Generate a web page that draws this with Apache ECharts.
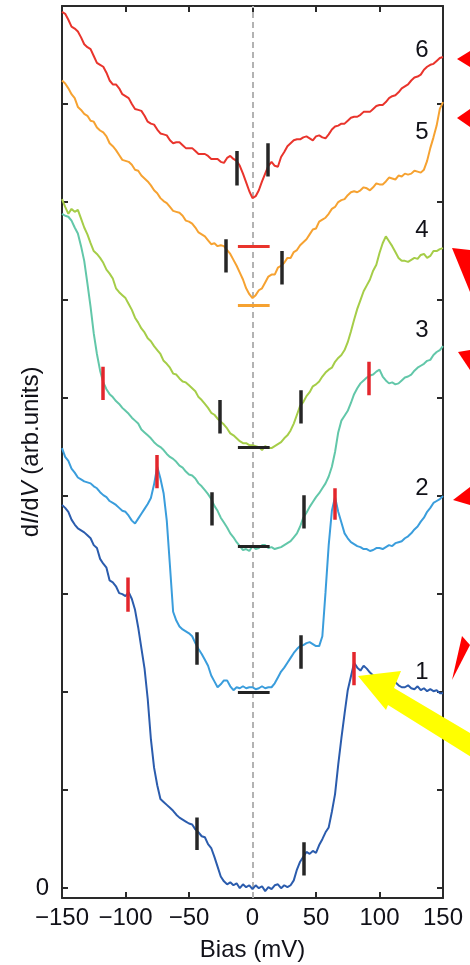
<!DOCTYPE html>
<html>
<head>
<meta charset="utf-8">
<script src="https://cdn.jsdelivr.net/npm/echarts@6/dist/echarts.min.js"></script>
<style>
  html, body { margin: 0; padding: 0; background: #ffffff; }
  #chart { width: 470px; height: 965px; }
</style>
</head>
<body>
<div id="chart"></div>
<script>
// Bias voltage grid (mV), 2.5 mV steps
const bias = [
  -150,-147.5,-145,-142.5,-140,-137.5,-135,-132.5,-130,-127.5,
  -125,-122.5,-120,-117.5,-115,-112.5,-110,-107.5,-105,-102.5,
  -100,-97.5,-95,-92.5,-90,-87.5,-85,-82.5,-80,-77.5,
  -75,-72.5,-70,-67.5,-65,-62.5,-60,-57.5,-55,-52.5,
  -50,-47.5,-45,-42.5,-40,-37.5,-35,-32.5,-30,-27.5,
  -25,-22.5,-20,-17.5,-15,-12.5,-10,-7.5,-5,-2.5,
  0,2.5,5,7.5,10,12.5,15,17.5,20,22.5,
  25,27.5,30,32.5,35,37.5,40,42.5,45,47.5,
  50,52.5,55,57.5,60,62.5,65,67.5,70,72.5,
  75,77.5,80,82.5,85,87.5,90,92.5,95,97.5,
  100,102.5,105,107.5,110,112.5,115,117.5,120,122.5,
  125,127.5,130,132.5,135,137.5,140,142.5,145,147.5,
  150
];

// dI/dV spectra, vertically offset (arb. units)
const curve1 = [
  3.91,3.88,3.84,3.76,3.71,3.67,3.65,3.63,3.60,3.57,
  3.50,3.47,3.36,3.31,3.27,3.14,3.12,3.08,3.01,3.00,
  2.98,3.02,2.95,2.84,2.66,2.45,2.24,1.93,1.52,1.23,
  1.05,0.91,0.88,0.85,0.82,0.79,0.75,0.72,0.70,0.68,
  0.66,0.65,0.60,0.57,0.53,0.52,0.45,0.41,0.32,0.22,
  0.12,0.07,0.04,0.06,0.03,0.05,0.00,0.04,0.01,0.03,
  -0.01,0.03,0.00,0.02,-0.03,0.01,-0.01,0.03,0.04,0.00,
  0.03,0.01,0.03,0.08,0.19,0.27,0.32,0.37,0.35,0.38,
  0.36,0.44,0.50,0.57,0.62,0.78,0.96,1.26,1.53,1.78,
  2.02,2.16,2.30,2.25,2.22,2.27,2.24,2.20,2.17,2.16,
  2.13,2.15,2.12,2.10,2.08,2.10,2.07,2.05,2.05,2.07,
  2.04,2.03,2.06,2.02,2.04,2.01,2.03,2.01,2.02,1.99,
  1.99
];
const curve2 = [
  4.49,4.40,4.36,4.28,4.24,4.19,4.17,4.15,4.14,4.13,
  4.10,4.08,4.04,4.01,3.99,3.95,3.93,3.91,3.88,3.85,
  3.84,3.80,3.75,3.72,3.77,3.82,3.87,3.92,3.98,4.12,
  4.30,4.18,4.03,3.75,3.29,2.82,2.73,2.67,2.64,2.62,
  2.60,2.57,2.50,2.44,2.39,2.33,2.27,2.17,2.11,2.05,
  2.08,2.12,2.12,2.06,2.02,2.05,2.04,2.06,2.04,2.05,
  2.05,2.03,2.04,2.06,2.04,2.05,2.05,2.09,2.15,2.21,
  2.25,2.30,2.35,2.40,2.44,2.47,2.48,2.50,2.51,2.49,
  2.47,2.47,2.57,3.02,3.50,3.85,3.99,3.84,3.73,3.62,
  3.57,3.53,3.51,3.49,3.48,3.46,3.46,3.44,3.45,3.47,
  3.47,3.46,3.48,3.50,3.49,3.52,3.53,3.54,3.57,3.59,
  3.62,3.66,3.69,3.74,3.78,3.84,3.88,3.93,3.95,3.97,
  4.00
];
const curve3 = [
  6.88,6.86,6.85,6.81,6.74,6.68,6.55,6.40,6.17,5.93,
  5.66,5.45,5.28,5.16,5.09,5.04,5.01,4.97,4.94,4.90,
  4.87,4.84,4.80,4.77,4.74,4.68,4.65,4.62,4.59,4.55,
  4.52,4.50,4.47,4.43,4.40,4.38,4.35,4.31,4.29,4.25,
  4.22,4.21,4.18,4.13,4.10,4.06,4.02,3.97,3.90,3.85,
  3.78,3.73,3.68,3.62,3.58,3.53,3.49,3.45,3.46,3.44,
  3.49,3.46,3.47,3.50,3.50,3.47,3.48,3.46,3.47,3.48,
  3.50,3.52,3.54,3.58,3.62,3.69,3.78,3.83,3.89,3.94,
  3.99,4.03,4.08,4.13,4.20,4.30,4.45,4.65,4.77,4.82,
  4.87,4.95,5.04,5.10,5.15,5.18,5.21,5.23,5.24,5.27,
  5.29,5.22,5.18,5.15,5.16,5.14,5.15,5.18,5.21,5.22,
  5.24,5.28,5.31,5.33,5.35,5.38,5.39,5.44,5.47,5.49,
  5.53
];
const curve4 = [
  7.03,6.95,6.88,6.93,6.90,6.92,6.83,6.74,6.67,6.58,
  6.50,6.47,6.43,6.38,6.31,6.27,6.22,6.12,6.08,6.05,
  6.02,5.96,5.90,5.82,5.77,5.71,5.67,5.61,5.58,5.53,
  5.49,5.45,5.38,5.35,5.31,5.25,5.24,5.20,5.17,5.16,
  5.13,5.10,5.07,5.01,4.98,4.94,4.90,4.85,4.83,4.79,
  4.76,4.73,4.69,4.64,4.62,4.59,4.56,4.54,4.54,4.52,
  4.52,4.51,4.50,4.47,4.51,4.49,4.49,4.51,4.53,4.55,
  4.59,4.62,4.67,4.74,4.83,4.92,4.96,5.02,5.06,5.12,
  5.14,5.17,5.22,5.26,5.29,5.31,5.37,5.41,5.44,5.49,
  5.57,5.68,5.80,5.91,6.00,6.09,6.15,6.21,6.30,6.36,
  6.48,6.58,6.65,6.60,6.55,6.49,6.43,6.40,6.40,6.39,
  6.41,6.43,6.42,6.46,6.47,6.43,6.45,6.50,6.50,6.52,
  6.53
];
const curve5 = [
  8.24,8.21,8.16,8.10,8.06,7.97,7.94,7.90,7.88,7.83,
  7.82,7.76,7.73,7.71,7.67,7.60,7.57,7.53,7.48,7.43,
  7.42,7.41,7.38,7.33,7.32,7.27,7.24,7.21,7.17,7.12,
  7.09,7.04,7.01,6.99,6.95,6.91,6.90,6.89,6.86,6.81,
  6.80,6.78,6.74,6.69,6.67,6.65,6.61,6.57,6.58,6.55,
  6.56,6.55,6.51,6.47,6.41,6.35,6.28,6.21,6.12,6.06,
  6.02,6.05,6.10,6.12,6.18,6.24,6.26,6.26,6.33,6.35,
  6.38,6.43,6.43,6.49,6.51,6.56,6.59,6.62,6.67,6.72,
  6.73,6.80,6.82,6.84,6.88,6.93,6.95,7.00,7.02,7.03,
  7.07,7.10,7.11,7.10,7.12,7.15,7.14,7.12,7.15,7.19,
  7.18,7.18,7.21,7.25,7.24,7.23,7.27,7.26,7.29,7.28,
  7.29,7.32,7.31,7.30,7.33,7.42,7.55,7.66,7.78,7.95,
  8.02
];
const curve6 = [
  8.94,8.92,8.86,8.79,8.77,8.74,8.68,8.61,8.58,8.56,
  8.49,8.42,8.40,8.38,8.32,8.24,8.20,8.20,8.16,8.10,
  8.08,8.06,8.00,7.95,7.94,7.93,7.88,7.82,7.80,7.79,
  7.74,7.70,7.69,7.68,7.63,7.60,7.61,7.61,7.58,7.55,
  7.55,7.55,7.52,7.49,7.49,7.49,7.47,7.44,7.44,7.44,
  7.41,7.40,7.45,7.47,7.44,7.42,7.37,7.29,7.20,7.11,
  7.04,7.06,7.12,7.21,7.29,7.37,7.41,7.37,7.36,7.46,
  7.51,7.57,7.60,7.63,7.64,7.64,7.66,7.67,7.65,7.63,
  7.67,7.68,7.66,7.65,7.69,7.74,7.77,7.78,7.80,7.80,
  7.83,7.86,7.87,7.87,7.89,7.92,7.92,7.92,7.95,7.98,
  7.99,7.99,8.02,8.06,8.08,8.09,8.12,8.16,8.18,8.20,
  8.24,8.27,8.28,8.30,8.35,8.38,8.40,8.41,8.44,8.47,
  8.48
];

const curveNames = ['1', '2', '3', '4', '5', '6'];
// Where each spectrum's number is printed: [bias, dI/dV]
const curveLabelPos = [[133.5, 2.20], [133.5, 4.08], [133.5, 5.69], [133.5, 6.71], [133.5, 7.71], [133.5, 8.55]];

// Gap-edge markers: [bias, lower dI/dV, upper dI/dV]
const gapEdges = [
  [-12.2, 7.17, 7.52], [12.2, 7.26, 7.60],
  [-20.9, 6.28, 6.62], [23.2, 6.16, 6.50],
  [-25.6, 4.64, 4.98], [38.2, 4.74, 5.08],
  [-31.9, 3.70, 4.04], [40.6, 3.67, 4.01],
  [-43.7, 2.28, 2.61], [38.2, 2.24, 2.58],
  [-43.7, 0.39, 0.72], [40.6, 0.13, 0.47]
];
// Coherence-peak markers: [bias, lower dI/dV, upper dI/dV]
const peakMarks = [
  [-117.7, 4.98, 5.32], [91.7, 5.03, 5.37],
  [-75.2, 4.08, 4.42], [65.0, 3.76, 4.08],
  [-98.0, 2.82, 3.17], [79.9, 2.07, 2.41]
];
// Zero-bias baselines: [left bias, right bias, dI/dV]
const baselines = [
  [-11.5, 13.5, 6.55], [-11.5, 13.5, 5.95],
  [-11.5, 13.5, 4.50], [-11.5, 13.5, 3.49], [-11.5, 13.5, 2.00]
];

const yTicks = [0, 1, 2, 3, 4, 5, 6, 7, 8, 9];

const curveColors = ['#2b5cad', '#3a9ddc', '#62c7a9', '#a5cd48', '#f6a231', '#e9342c'];
const baselineColors = ['#e9342c', '#f6a231', '#222222', '#222222', '#222222'];
const axisColor = '#2a2a2a';
const textColor = '#111118';
const font = '"Liberation Sans", Arial, sans-serif';

const chart = echarts.init(document.getElementById('chart'), null, { renderer: 'canvas' });

const curves = [curve1, curve2, curve3, curve4, curve5, curve6];
const series = curves.map((vals, i) => ({
  name: curveNames[i],
  type: 'line',
  data: bias.map((b, j) => [b, vals[j]]),
  showSymbol: false,
  symbol: 'none',
  lineStyle: { color: curveColors[i], width: 2 },
  z: 3,
  silent: true
}));

// dashed zero-bias guide
series.push({
  type: 'lines',
  coordinateSystem: 'cartesian2d',
  data: [{ coords: [[0, -0.1], [0, 9]] }],
  lineStyle: { color: '#b3b3b3', width: 2, type: [6, 4], opacity: 1 },
  z: 2,
  silent: true
});
series.push({
  type: 'lines',
  coordinateSystem: 'cartesian2d',
  data: gapEdges.map(m => ({ coords: [[m[0], m[1]], [m[0], m[2]]] })),
  lineStyle: { color: '#262626', width: 3.5, opacity: 1 },
  z: 5,
  silent: true
});
series.push({
  type: 'lines',
  coordinateSystem: 'cartesian2d',
  data: peakMarks.map(m => ({ coords: [[m[0], m[1]], [m[0], m[2]]] })),
  lineStyle: { color: '#e3262c', width: 3.5, opacity: 1 },
  z: 5,
  silent: true
});
series.push({
  type: 'lines',
  coordinateSystem: 'cartesian2d',
  data: baselines.map((m, i) => ({
    coords: [[m[0], m[2]], [m[1], m[2]]],
    lineStyle: { color: baselineColors[i] }
  })),
  lineStyle: { width: 3, opacity: 1 },
  z: 5,
  silent: true
});
// spectrum numbers
series.push({
  type: 'scatter',
  data: curveLabelPos.map((p, i) => ({ value: p, name: curveNames[i] })),
  symbolSize: 0,
  itemStyle: { opacity: 1 },
  label: {
    show: true,
    position: 'inside',
    formatter: p => p.name,
    color: textColor,
    opacity: 1,
    fontSize: 24,
    fontFamily: font
  },
  z: 6,
  silent: true
});

const minus = v => (v < 0 ? '\u2212' + Math.abs(v) : String(v));

chart.setOption({
  animation: false,
  backgroundColor: '#ffffff',
  grid: { left: 62, right: 27, top: 6, bottom: 67, containLabel: false, outerBoundsMode: 'none' },
  xAxis: [
    {
      type: 'value', min: -150, max: 150, interval: 50, position: 'bottom',
      name: 'Bias (mV)', nameLocation: 'middle', nameGap: 40, nameMoveOverlap: false,
      nameTextStyle: { fontSize: 24, color: textColor, fontFamily: font },
      axisLine: { show: true, onZero: false, lineStyle: { color: axisColor, width: 2 } },
      axisTick: { show: true, inside: true, length: 6, lineStyle: { color: axisColor, width: 2 } },
      axisLabel: { show: true, margin: 8, fontSize: 24, color: textColor, fontFamily: font, formatter: minus },
      splitLine: { show: false }
    },
    {
      type: 'value', min: -150, max: 150, interval: 50, position: 'top',
      axisLine: { show: true, onZero: false, lineStyle: { color: axisColor, width: 2 } },
      axisTick: { show: true, inside: true, length: 6, lineStyle: { color: axisColor, width: 2 } },
      axisLabel: { show: false },
      splitLine: { show: false }
    }
  ],
  yAxis: [
    {
      type: 'value', min: -0.1, max: 9, position: 'left',
      name: '{n|d}{i|I}{n|/d}{i|V}{n| (arb.units)}',
      nameLocation: 'middle', nameGap: 19, nameRotate: 90, nameMoveOverlap: false,
      nameTextStyle: {
        fontSize: 24, color: textColor, fontFamily: font,
        rich: {
          n: { fontSize: 24, color: textColor, fontFamily: font },
          i: { fontSize: 24, color: textColor, fontFamily: font, fontStyle: 'italic' }
        }
      },
      axisLine: { show: true, onZero: false, lineStyle: { color: axisColor, width: 2 } },
      axisTick: { show: true, inside: true, length: 6, customValues: yTicks, lineStyle: { color: axisColor, width: 2 } },
      axisLabel: { show: true, margin: 13, fontSize: 24, color: textColor, fontFamily: font, customValues: [0] },
      splitLine: { show: false }
    },
    {
      type: 'value', min: -0.1, max: 9, position: 'right',
      axisLine: { show: true, onZero: false, lineStyle: { color: axisColor, width: 2 } },
      axisTick: { show: true, inside: true, length: 6, customValues: yTicks, lineStyle: { color: axisColor, width: 2 } },
      axisLabel: { show: false },
      splitLine: { show: false }
    }
  ],
  series: series,
  graphic: [
    // red pointers at the right margin
    { type: 'polygon', shape: { points: [[457, 59], [470, 51], [470, 67]] }, style: { fill: '#ff0000' }, z: 10 },
    { type: 'polygon', shape: { points: [[457, 118], [470, 109], [470, 127]] }, style: { fill: '#ff0000' }, z: 10 },
    { type: 'polygon', shape: { points: [[452, 248], [470, 250], [470, 292]] }, style: { fill: '#ff0000' }, z: 10 },
    { type: 'polygon', shape: { points: [[458, 352], [470, 350], [470, 370]] }, style: { fill: '#ff0000' }, z: 10 },
    { type: 'polygon', shape: { points: [[453, 500], [470, 487], [470, 505]] }, style: { fill: '#ff0000' }, z: 10 },
    { type: 'polygon', shape: { points: [[452, 680], [462, 636], [470, 645]] }, style: { fill: '#ff0000' }, z: 10 },
    // yellow arrow pointing at the coherence peak of spectrum 1
    { type: 'polygon', shape: { points: [[358, 676], [401, 671], [394, 688], [482, 740], [476, 760], [388, 705], [386, 710]] }, style: { fill: '#ffff00' }, z: 10 }
  ]
});
</script>
</body>
</html>
